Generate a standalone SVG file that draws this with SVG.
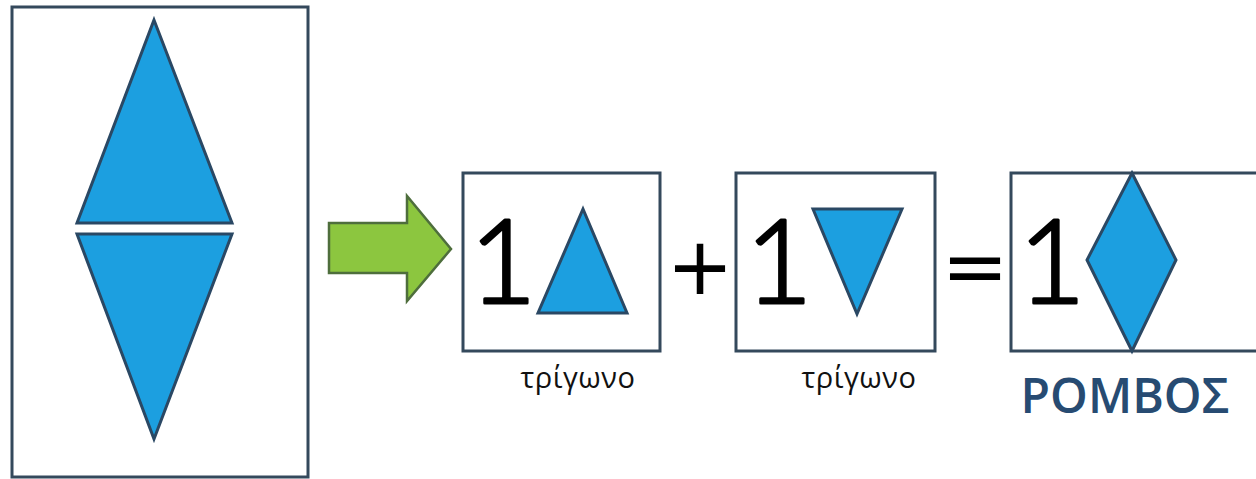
<svg xmlns="http://www.w3.org/2000/svg" width="1256" height="479" viewBox="0 0 1256 479">
  <style>
    .box { fill: #ffffff; stroke: #34495c; stroke-width: 3; }
    .shape { fill: #1c9fe0; stroke: #2a4864; stroke-width: 3; stroke-linejoin: miter; }
    .digit { font-family: Lato, "DejaVu Sans", sans-serif; font-size: 116px; font-weight: 300; fill: #000000; stroke: #000000; stroke-width: 3; stroke-linejoin: round; }
    .op { font-family: "DejaVu Sans", sans-serif; fill: #000000; }
    .lbl { font-family: "Open Sans", "Noto Sans", sans-serif; font-size: 29px; letter-spacing: 0.5px; fill: #111111; text-anchor: middle; }
    .title { font-family: "Open Sans", "Noto Sans", sans-serif; font-size: 48px; font-weight: 600; fill: #274b72; text-anchor: middle; }
  </style>
  <rect width="1256" height="479" fill="#ffffff"/>

  <g id="source">
    <rect class="box" x="12" y="7" width="296" height="470"/>
    <polygon class="shape" points="154,20 232,223 77,223"/>
    <polygon class="shape" points="77,234 232,234 154,439"/>
  </g>

  <g id="connectors">
    <polygon points="329,223 407,223 407,196 451,249 407,301 407,273 329,273" fill="#8cc63f" stroke="#4e6e3c" stroke-width="2.5" stroke-linejoin="miter"/>
  </g>

  <g id="triangle-up">
    <rect class="box" x="463" y="173" width="197" height="178"/>
    <text class="digit" x="503" y="303" text-anchor="middle">1</text>
    <polygon class="shape" points="583,209 627,313 538,313"/>
    <text class="lbl" x="578" y="388">τρίγωνο</text>
  </g>

  <g id="plus">
    <text class="op" x="700" y="294" font-size="80" text-anchor="middle">+</text>
  </g>

  <g id="triangle-down">
    <rect class="box" x="736" y="173" width="199" height="178"/>
    <text class="digit" x="779" y="303" text-anchor="middle">1</text>
    <polygon class="shape" points="813,209 902,209 857,314"/>
    <text class="lbl" x="859" y="388">τρίγωνο</text>
  </g>

  <g id="equals">
    <text class="op" x="975" y="294" font-size="80" text-anchor="middle">=</text>
  </g>

  <g id="rhombus">
    <rect class="box" x="1011" y="173" width="248" height="178"/>
    <text class="digit" x="1052" y="303" text-anchor="middle">1</text>
    <polygon class="shape" points="1132,173 1176,260 1132,351 1087,260"/>
    <text class="title" x="1125" y="413">ΡΟΜΒΟΣ</text>
  </g>
</svg>
